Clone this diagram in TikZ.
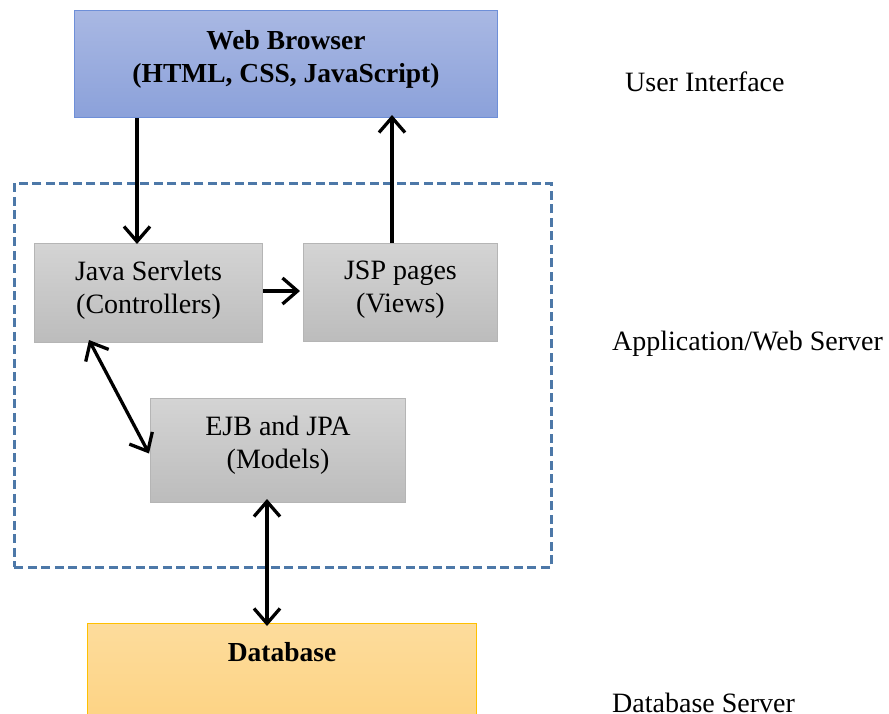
\documentclass[tikz,border=0pt]{standalone}
\usepackage{fontspec}
\setmainfont{Liberation Serif}
\usetikzlibrary{arrows.meta}
\definecolor{wbtop}{HTML}{A9B8E3}
\definecolor{wbbot}{HTML}{8BA1DA}
\definecolor{wbline}{HTML}{6E8FD8}
\definecolor{gtop}{HTML}{D4D4D4}
\definecolor{gbot}{HTML}{BCBCBC}
\definecolor{gline}{HTML}{B5B5B5}
\definecolor{dbtop}{HTML}{FDDC9C}
\definecolor{dbbot}{HTML}{FDD383}
\definecolor{dbline}{HTML}{FFC000}
\definecolor{dashc}{HTML}{4D78A8}
\begin{document}
\begin{tikzpicture}[x=1pt,y=-1pt,
  box/.style={draw, line width=1pt, anchor=north west, inner sep=0pt},
  graybox/.style={box, draw=gline, top color=gtop, bottom color=gbot},
  txt/.style={inner sep=0pt, align=center, font=\fontsize{28}{33}\selectfont},
  btxt/.style={inner sep=0pt, align=center, font=\bfseries\fontsize{27.5}{33}\selectfont},
  lbl/.style={anchor=west, inner sep=0pt, font=\fontsize{28}{33}\selectfont},
  conn/.style={line width=3.3pt, -{Straight Barb[length=15pt,width=26pt]}},
  dconn/.style={line width=3.3pt, {Straight Barb[length=15pt,width=26pt]}-{Straight Barb[length=15pt,width=26pt]}}]
\useasboundingbox (0,0) rectangle (889,713);
\fill[white] (0,0) rectangle (889,713);
% dashed server boundary
\node[draw=dashc, line width=2.8pt, dash pattern=on 9pt off 4.5pt, anchor=north west,
  minimum width=537pt, minimum height=384pt, inner sep=0pt] (srv) at (13,182) {};
% boxes
\node[box, draw=wbline, top color=wbtop, bottom color=wbbot, minimum width=423pt, minimum height=107pt] (wb) at (74,10) {};
\node[graybox, minimum width=228pt, minimum height=99pt] (sv) at (34,243) {};
\node[graybox, minimum width=194pt, minimum height=98pt] (jsp) at (303,243) {};
\node[graybox, minimum width=255pt, minimum height=104pt] (ejb) at (150,398) {};
\node[box, draw=dbline, top color=dbtop, bottom color=dbbot, minimum width=389pt, minimum height=100pt] (db) at (87,623) {};
% box texts
\node[btxt] (wbt) at ([yshift=5pt]wb.center) {Web Browser\\(HTML, CSS, JavaScript)};
\node[txt] (svt) at ([yshift=3pt]sv.center) {Java Servlets\\(Controllers)};
\node[txt] (jspt) at ([yshift=3pt]jsp.center) {JSP pages\\(Views)};
\node[txt] (ejbt) at ([yshift=5pt]ejb.center) {EJB and JPA\\(Models)};
\node[btxt, anchor=base] (dbt) at (282,661) {Database};
% layer labels
\node[lbl] (ui) at (625,82) {User Interface};
\node[lbl] (aws) at (612,344) {Application/Web Server};
\node[lbl] (dbs) at (612,703) {Database Server};
% connectors
\coordinate (c1) at (137,0);
\coordinate (c2) at (392,0);
\coordinate (c3) at (89,0);
\coordinate (c4) at (267,0);
\coordinate (r1) at (0,291);
\draw[conn] (wb.south -| c1) -- ([yshift=-1pt]sv.north -| c1);
\draw[conn] (jsp.north -| c2) -- ([yshift=3pt]wb.south -| c2);
\draw[conn] (sv.east |- r1) -- ([xshift=-3pt]jsp.west |- r1);
\draw[dconn] ([yshift=3pt]sv.south -| c3) -- ([xshift=-1pt,yshift=-3pt]ejb.west);
\draw[dconn] ([yshift=4pt]ejb.south -| c4) -- ([yshift=-3pt]db.north -| c4);
\end{tikzpicture}
\end{document}
